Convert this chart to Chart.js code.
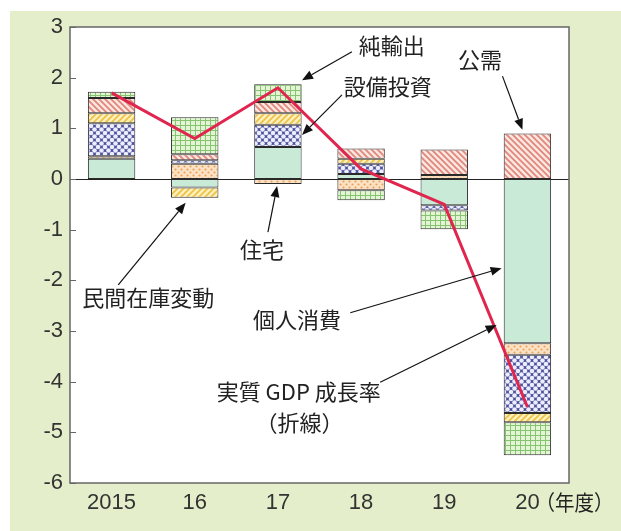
<!DOCTYPE html>
<html>
<head>
<meta charset="utf-8">
<script src="https://cdn.jsdelivr.net/npm/chart.js@4"></script>
<style>
  body { margin: 0; background: #fff; }
  canvas { display: block; }
</style>
</head>
<body>
<canvas id="gdpChart" width="621" height="531"></canvas>
<script>
// 年度
const years = ['2015', '16', '17', '18', '19', '20'];
// 寄与度 (%ポイント)
const consumption = [0.40, -0.17, 0.63, 0.10, -0.52, -3.24];
const housing = [0.05, 0.30, -0.10, -0.22, 0.08, -0.23];
const capex = [0.65, 0.07, 0.44, 0.20, -0.10, -1.15];
const inventory = [0.20, -0.20, 0.23, 0.10, 0.00, -0.18];
const publicDemand = [0.30, 0.12, 0.22, 0.20, 0.50, 0.90];
const netExports = [0.12, 0.73, 0.35, -0.20, -0.37, -0.65];
// 実質GDP成長率
const gdpGrowth = [1.7, 0.8, 1.8, 0.2, -0.5, -4.5];
const yTicks = [3, 2, 1, 0, -1, -2, -3, -4, -5, -6];

const numFont = "'Liberation Sans', Arial, sans-serif";
const jpFont = "'Noto Sans CJK JP', sans-serif";

const ctx = document.getElementById('gdpChart').getContext('2d');

// 模様を作る
function tile(size, draw) {
    const c = document.createElement('canvas');
    c.width = size;
    c.height = size;
    draw(c.getContext('2d'), size);
    return ctx.createPattern(c, 'repeat');
}

const patHousing = tile(6, (g) => {
    g.fillStyle = '#fbe2c4'; g.fillRect(0, 0, 6, 6);
    g.fillStyle = '#e9a25c';
    [[1.5, 1.5], [4.5, 4.5]].forEach(([x, y]) => { g.beginPath(); g.arc(x, y, 1.1, 0, Math.PI * 2); g.fill(); });
});

const patCapex = tile(7, (g) => {
    g.fillStyle = '#4e509a'; g.fillRect(0, 0, 7, 7);
    g.fillStyle = '#eceeff';
    [[0, 0], [7, 0], [0, 7], [7, 7], [3.5, 3.5]].forEach(([x, y]) => { g.beginPath(); g.arc(x, y, 2.3, 0, Math.PI * 2); g.fill(); });
});

const patInventory = tile(6, (g) => {
    g.fillStyle = '#fdf1bc'; g.fillRect(0, 0, 6, 6);
    g.strokeStyle = '#eec24a'; g.lineWidth = 1.8;
    g.beginPath();
    g.moveTo(-1, 7); g.lineTo(7, -1);
    g.moveTo(-4, 4); g.lineTo(4, -4);
    g.moveTo(2, 10); g.lineTo(10, 2);
    g.stroke();
});

const patPublic = tile(6, (g) => {
    g.fillStyle = '#fbe6e0'; g.fillRect(0, 0, 6, 6);
    g.strokeStyle = '#e0877c'; g.lineWidth = 1.8;
    g.beginPath();
    g.moveTo(-1, -1); g.lineTo(7, 7);
    g.moveTo(-4, 2); g.lineTo(4, 10);
    g.moveTo(2, -4); g.lineTo(10, 4);
    g.stroke();
});

const patNetExports = tile(5, (g) => {
    g.fillStyle = '#e4f5d6'; g.fillRect(0, 0, 5, 5);
    g.fillStyle = '#86c472';
    g.fillRect(0, 0, 5, 1);
    g.fillRect(0, 0, 1, 5);
});

// 注記 (データ座標: x はカテゴリ番号, y は値)
const labels = [
    { text: '純輸出', x: 3.37, y: 2.64 },
    { text: '設備投資', x: 3.32, y: 1.82 },
    { text: '公需', x: 4.43, y: 2.35 },
    { text: '住宅', x: 1.81, y: -1.40 },
    { text: '民間在庫変動', x: 0.44, y: -2.35 },
    { text: '個人消費', x: 2.23, y: -2.78 },
    { text: '実質 GDP 成長率', x: 2.25, y: -4.20 },
    { text: '（折線）', x: 2.26, y: -4.80 }
];
const arrows = [
    { from: [2.89, 2.51], to: [2.29, 1.95] },
    { from: [2.77, 1.66], to: [2.29, 0.87] },
    { from: [4.70, 2.03], to: [4.94, 0.97] },
    { from: [1.88, -1.05], to: [1.99, -0.14] },
    { from: [0.08, -2.09], to: [0.89, -0.47] },
    { from: [2.87, -2.64], to: [4.69, -1.76] },
    { from: [3.23, -4.01], to: [4.63, -2.88] }
];

const frame = {
    id: 'frame',
    beforeDraw(chart) {
        const c = chart.ctx;
        const a = chart.chartArea;
        c.save();
        c.fillStyle = '#ffffff';
        c.fillRect(0, 0, chart.width, chart.height);
        c.fillStyle = '#e5eecb';
        c.fillRect(10, 11, chart.width - 10, chart.height - 11);
        c.fillStyle = '#ffffff';
        c.fillRect(a.left, a.top, a.right - a.left, a.bottom - a.top);
        c.restore();
    },
    beforeDatasetsDraw(chart) {
        const c = chart.ctx;
        const a = chart.chartArea;
        const y0 = Math.round(chart.scales.y.getPixelForValue(0)) + 0.5;
        c.save();
        c.strokeStyle = '#222';
        c.lineWidth = 1;
        c.beginPath();
        c.moveTo(a.left, y0);
        c.lineTo(a.right, y0);
        c.stroke();
        c.restore();
    },
    afterDraw(chart) {
        const c = chart.ctx;
        const a = chart.chartArea;
        const xs = chart.scales.x;
        const ys = chart.scales.y;
        const step = (xs.right - xs.left) / years.length;
        const px = (v) => xs.left + (v + 0.5) * step;
        const py = (v) => ys.getPixelForValue(v);

        c.save();
        // 枠と目盛り
        c.strokeStyle = '#666';
        c.lineWidth = 1.5;
        c.strokeRect(a.left, a.top, a.right - a.left, a.bottom - a.top);
        c.lineWidth = 1;
        yTicks.forEach(t => {
            const y = Math.round(py(t)) + 0.5;
            c.beginPath();
            c.moveTo(a.left, y);
            c.lineTo(a.left + 6, y);
            c.stroke();
        });

        // 注記
        c.fillStyle = '#222';
        c.font = '22px ' + jpFont;
        c.textAlign = 'center';
        c.textBaseline = 'middle';
        labels.forEach(l => c.fillText(l.text, px(l.x), py(l.y)));

        c.textAlign = 'left';
        c.font = '21px ' + jpFont;
        c.fillText('（年度）', px(5) + 8, xs.top + 19, 78);

        c.strokeStyle = '#111';
        c.fillStyle = '#111';
        c.lineWidth = 1.2;
        arrows.forEach(ar => {
            const x1 = px(ar.from[0]), y1 = py(ar.from[1]);
            const x2 = px(ar.to[0]), y2 = py(ar.to[1]);
            const ang = Math.atan2(y2 - y1, x2 - x1);
            const hl = 11, hw = 4.5;
            const bx = x2 - hl * Math.cos(ang), by = y2 - hl * Math.sin(ang);
            c.beginPath();
            c.moveTo(x1, y1);
            c.lineTo(bx, by);
            c.stroke();
            c.beginPath();
            c.moveTo(x2, y2);
            c.lineTo(bx + hw * Math.sin(ang), by - hw * Math.cos(ang));
            c.lineTo(bx - hw * Math.sin(ang), by + hw * Math.cos(ang));
            c.closePath();
            c.fill();
        });
        c.restore();
    }
};

const barStyle = {
    type: 'bar',
    stack: 'contrib',
    borderColor: '#2a2a2a',
    borderWidth: 1,
    borderSkipped: false,
    barPercentage: 0.57,
    categoryPercentage: 1.0,
    order: 1
};

new Chart(ctx, {
    data: {
        labels: years,
        datasets: [
            {
                type: 'line',
                label: '実質GDP成長率',
                data: gdpGrowth,
                borderColor: '#e0264f',
                borderWidth: 3,
                pointRadius: 0,
                tension: 0,
                stack: 'gdp',
                order: 0
            },
            { ...barStyle, label: '個人消費', data: consumption, backgroundColor: '#c8ead7' },
            { ...barStyle, label: '住宅', data: housing, backgroundColor: patHousing },
            { ...barStyle, label: '設備投資', data: capex, backgroundColor: patCapex },
            { ...barStyle, label: '民間在庫変動', data: inventory, backgroundColor: patInventory },
            { ...barStyle, label: '公需', data: publicDemand, backgroundColor: patPublic },
            { ...barStyle, label: '純輸出', data: netExports, backgroundColor: patNetExports }
        ]
    },
    options: {
        responsive: false,
        animation: false,
        devicePixelRatio: 1,
        layout: { padding: { top: 27, right: 52, left: 0, bottom: 0 } },
        plugins: {
            legend: { display: false },
            tooltip: { enabled: false }
        },
        scales: {
            x: {
                stacked: true,
                grid: { display: false, drawTicks: false },
                border: { display: false },
                ticks: { color: '#333', font: { family: numFont, size: 22 }, padding: 7 },
                afterFit: (s) => { s.height = 48; }
            },
            y: {
                stacked: true,
                min: -6,
                max: 3,
                grid: { display: false, drawTicks: false },
                border: { display: false },
                ticks: { stepSize: 1, color: '#333', font: { family: numFont, size: 22 }, padding: 7 },
                afterFit: (s) => { s.width = 70; }
            }
        }
    },
    plugins: [frame]
});
</script>
</body>
</html>
